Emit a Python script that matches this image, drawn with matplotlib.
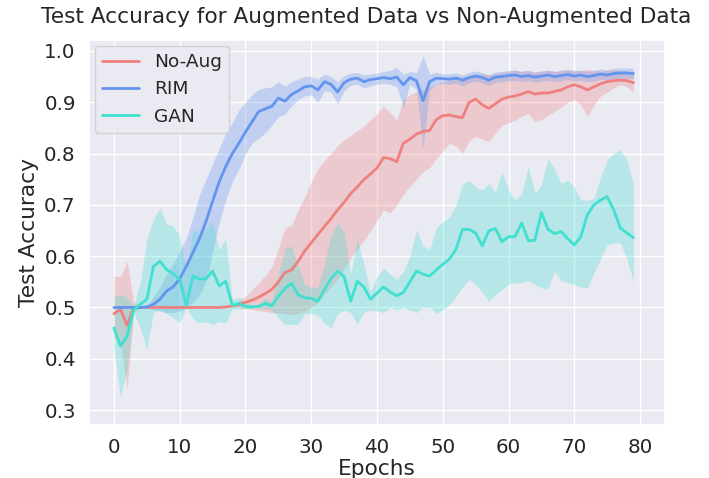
import matplotlib
matplotlib.use("Agg")
import matplotlib.pyplot as plt
import seaborn as sns
import numpy as np

epochs = list(range(80))

noaug_mean = [0.488, 0.496, 0.465, 0.5, 0.5, 0.5, 0.5, 0.5, 0.5, 0.5,
              0.5, 0.5, 0.5, 0.5, 0.5, 0.5, 0.5, 0.501, 0.503, 0.506,
              0.51, 0.514, 0.52, 0.527, 0.535, 0.55, 0.568, 0.573, 0.59, 0.61,
              0.626, 0.642, 0.658, 0.673, 0.69, 0.705, 0.722, 0.735, 0.749, 0.76,
              0.772, 0.792, 0.79, 0.784, 0.82, 0.828, 0.838, 0.843, 0.845, 0.866,
              0.874, 0.875, 0.872, 0.87, 0.9, 0.906, 0.895, 0.888, 0.897, 0.906,
              0.91, 0.912, 0.916, 0.921, 0.916, 0.918, 0.918, 0.921, 0.924, 0.93,
              0.934, 0.93, 0.924, 0.93, 0.936, 0.94, 0.942, 0.943, 0.942, 0.938]
noaug_lo = [0.44, 0.43, 0.34, 0.49, 0.5, 0.5, 0.5, 0.5, 0.5, 0.5,
            0.5, 0.5, 0.5, 0.5, 0.5, 0.5, 0.5, 0.5, 0.5, 0.5,
            0.498, 0.496, 0.494, 0.492, 0.49, 0.49, 0.487, 0.486, 0.488, 0.492,
            0.5, 0.51, 0.525, 0.54, 0.555, 0.575, 0.595, 0.615, 0.63, 0.65,
            0.67, 0.69, 0.684, 0.70, 0.72, 0.736, 0.75, 0.765, 0.772, 0.79,
            0.805, 0.82, 0.815, 0.80, 0.825, 0.833, 0.828, 0.823, 0.84, 0.855,
            0.86, 0.865, 0.872, 0.878, 0.862, 0.866, 0.875, 0.882, 0.89, 0.9,
            0.905, 0.895, 0.872, 0.895, 0.912, 0.92, 0.928, 0.935, 0.93, 0.92]
noaug_hi = [0.561, 0.56, 0.59, 0.51, 0.5, 0.5, 0.5, 0.5, 0.5, 0.5,
            0.5, 0.5, 0.5, 0.5, 0.5, 0.5, 0.5, 0.502, 0.506, 0.512,
            0.522, 0.535, 0.548, 0.562, 0.58, 0.615, 0.655, 0.66, 0.69, 0.715,
            0.745, 0.77, 0.787, 0.80, 0.815, 0.827, 0.835, 0.845, 0.853, 0.866,
            0.878, 0.892, 0.88, 0.866, 0.905, 0.915, 0.92, 0.925, 0.93, 0.935,
            0.94, 0.943, 0.948, 0.95, 0.952, 0.955, 0.955, 0.953, 0.956, 0.958,
            0.96, 0.962, 0.96, 0.962, 0.958, 0.96, 0.962, 0.96, 0.962, 0.963,
            0.962, 0.961, 0.964, 0.962, 0.96, 0.962, 0.963, 0.962, 0.961, 0.958]

rim_mean = [0.5, 0.5, 0.5, 0.5, 0.5, 0.501, 0.506, 0.516, 0.532, 0.54,
            0.556, 0.58, 0.607, 0.634, 0.668, 0.707, 0.745, 0.775, 0.80, 0.82,
            0.842, 0.862, 0.882, 0.887, 0.892, 0.908, 0.902, 0.915, 0.922, 0.93,
            0.932, 0.924, 0.94, 0.935, 0.92, 0.938, 0.945, 0.947, 0.94, 0.944,
            0.946, 0.948, 0.946, 0.949, 0.934, 0.948, 0.942, 0.903, 0.94, 0.947,
            0.946, 0.945, 0.947, 0.943, 0.948, 0.951, 0.948, 0.943, 0.949, 0.95,
            0.952, 0.953, 0.95, 0.952, 0.949, 0.951, 0.953, 0.95, 0.952, 0.954,
            0.951, 0.953, 0.95, 0.952, 0.955, 0.953, 0.956, 0.957, 0.957, 0.956]
rim_lo = [0.5, 0.5, 0.5, 0.5, 0.5, 0.499, 0.496, 0.493, 0.49, 0.49,
          0.493, 0.5, 0.51, 0.525, 0.55, 0.61, 0.665, 0.71, 0.745, 0.77,
          0.80, 0.82, 0.83, 0.84, 0.855, 0.872, 0.877, 0.893, 0.905, 0.912,
          0.914, 0.9, 0.922, 0.92, 0.897, 0.922, 0.933, 0.935, 0.928, 0.932,
          0.935, 0.937, 0.935, 0.93, 0.89, 0.935, 0.925, 0.81, 0.925, 0.935,
          0.936, 0.935, 0.937, 0.932, 0.938, 0.941, 0.938, 0.933, 0.939, 0.94,
          0.942, 0.943, 0.94, 0.942, 0.939, 0.941, 0.943, 0.94, 0.942, 0.944,
          0.941, 0.943, 0.94, 0.942, 0.945, 0.943, 0.946, 0.947, 0.947, 0.946]
rim_hi = [0.5, 0.5, 0.5, 0.5, 0.5, 0.503, 0.52, 0.54, 0.565, 0.585,
          0.61, 0.635, 0.675, 0.72, 0.75, 0.78, 0.81, 0.84, 0.86, 0.885,
          0.90, 0.915, 0.925, 0.928, 0.93, 0.94, 0.932, 0.94, 0.945, 0.95,
          0.95, 0.945, 0.955, 0.95, 0.94, 0.952, 0.957, 0.958, 0.953, 0.955,
          0.957, 0.96, 0.962, 0.968, 0.955, 0.96, 0.958, 0.99, 0.955, 0.958,
          0.956, 0.955, 0.957, 0.953, 0.958, 0.961, 0.958, 0.953, 0.959, 0.96,
          0.962, 0.963, 0.96, 0.962, 0.959, 0.961, 0.963, 0.96, 0.962, 0.964,
          0.961, 0.963, 0.96, 0.962, 0.965, 0.963, 0.966, 0.967, 0.967, 0.966]

gan_mean = [0.46, 0.425, 0.444, 0.496, 0.506, 0.516, 0.58, 0.59, 0.574, 0.566,
            0.555, 0.504, 0.561, 0.555, 0.556, 0.571, 0.542, 0.551, 0.504, 0.508,
            0.502, 0.501, 0.502, 0.508, 0.503, 0.522, 0.537, 0.547, 0.525, 0.519,
            0.518, 0.512, 0.535, 0.556, 0.571, 0.56, 0.512, 0.551, 0.54, 0.516,
            0.528, 0.54, 0.53, 0.523, 0.529, 0.55, 0.571, 0.565, 0.561, 0.573,
            0.584, 0.594, 0.613, 0.652, 0.652, 0.645, 0.62, 0.649, 0.654, 0.628,
            0.638, 0.638, 0.665, 0.63, 0.631, 0.685, 0.652, 0.644, 0.648, 0.634,
            0.622, 0.638, 0.681, 0.70, 0.709, 0.716, 0.69, 0.655, 0.645, 0.636]
gan_lo = [0.418, 0.325, 0.38, 0.49, 0.46, 0.418, 0.49, 0.495, 0.488, 0.48,
          0.47, 0.5, 0.478, 0.47, 0.472, 0.467, 0.472, 0.47, 0.497, 0.497,
          0.498, 0.499, 0.499, 0.497, 0.495, 0.48, 0.467, 0.467, 0.467, 0.488,
          0.488, 0.485, 0.47, 0.46, 0.488, 0.495, 0.49, 0.467, 0.49, 0.495,
          0.493, 0.49, 0.5, 0.495, 0.5, 0.495, 0.49, 0.5, 0.5, 0.488,
          0.495, 0.505, 0.522, 0.54, 0.555, 0.545, 0.53, 0.512, 0.525, 0.535,
          0.545, 0.548, 0.548, 0.552, 0.545, 0.538, 0.536, 0.571, 0.552, 0.548,
          0.545, 0.54, 0.538, 0.568, 0.595, 0.622, 0.626, 0.626, 0.594, 0.551]
gan_hi = [0.522, 0.525, 0.52, 0.503, 0.55, 0.633, 0.672, 0.694, 0.662, 0.659,
          0.64, 0.568, 0.652, 0.645, 0.655, 0.665, 0.613, 0.633, 0.516, 0.52,
          0.51, 0.505, 0.506, 0.518, 0.512, 0.565, 0.615, 0.62, 0.58, 0.545,
          0.54, 0.538, 0.585, 0.64, 0.665, 0.648, 0.565, 0.634, 0.585, 0.53,
          0.56, 0.577, 0.565, 0.555, 0.57, 0.6, 0.652, 0.62, 0.613, 0.655,
          0.668, 0.675, 0.7, 0.74, 0.748, 0.735, 0.729, 0.742, 0.725, 0.765,
          0.73, 0.709, 0.722, 0.775, 0.722, 0.74, 0.79, 0.77, 0.742, 0.748,
          0.735, 0.71, 0.709, 0.712, 0.755, 0.787, 0.80, 0.807, 0.787, 0.74]

series = [
    ("No-Aug", noaug_mean, noaug_lo, noaug_hi, "#F08080"),
    ("RIM", rim_mean, rim_lo, rim_hi, "#6495ED"),
    ("GAN", gan_mean, gan_lo, gan_hi, "#40E0D0"),
]

sns.set_theme(style="darkgrid", context="notebook", font_scale=1.3)
plt.rcParams["font.family"] = ["DejaVu Sans"]

fig = plt.figure(figsize=(7.09, 4.78), dpi=100)
ax = fig.add_axes([0.1255, 0.111, 0.8125, 0.805])

for name, m, lo, hi, c in series:
    ax.fill_between(epochs, lo, hi, color=c, alpha=0.3, linewidth=0)
    ax.plot(epochs, m, color=c, linewidth=2, label=name)

ax.set_xlim(-3.8, 83.8)
ax.set_ylim(0.271, 1.021)
ax.set_xticks([0, 10, 20, 30, 40, 50, 60, 70, 80])
ax.set_yticks([0.3, 0.4, 0.5, 0.6, 0.7, 0.8, 0.9, 1.0])
ax.set_xlabel("Epochs", labelpad=1)
ax.set_ylabel("Test Accuracy")
ax.set_title("Test Accuracy for Augmented Data vs Non-Augmented Data", x=0.481, pad=12)
ax.legend(loc="upper left", fontsize=13.3, borderaxespad=0.3)

fig.savefig("out.png", dpi=100)
